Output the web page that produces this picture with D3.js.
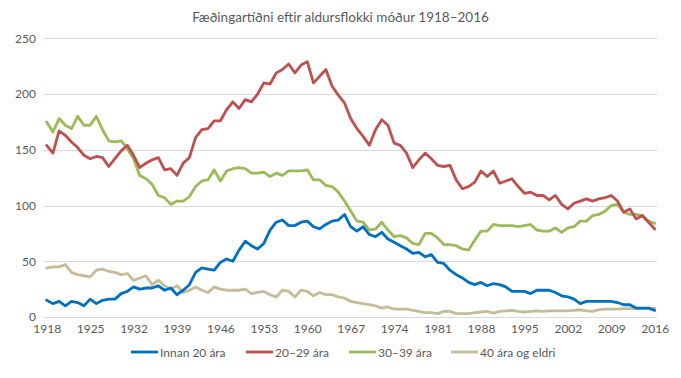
<!DOCTYPE html>
<html><head><meta charset="utf-8">
<script src="https://cdn.jsdelivr.net/npm/d3@7"></script>
<style>
html,body{margin:0;padding:0;background:#fff;}
svg{display:block;font-family:Lato, "Open Sans", sans-serif;}
</style></head>
<body><svg id="c" width="681" height="378"></svg>
<script>
const title = "Fæðingartíðni eftir aldursflokki móður 1918–2016";
const years = d3.range(1918, 2017);
const xTickYears = [1918,1925,1932,1939,1946,1953,1960,1967,1974,1981,1988,1995,2002,2009,2016];
const yTicks = [0,50,100,150,200,250];
const seriesNames = ["Innan 20 ára","20–29 ára","30–39 ára","40 ára og eldri"];
const seriesColors = ["#0070C0","#C0504D","#9BBB59","#C4BD97"];

const under20 = [15,12,14,10,14,13,10,16,12,15,16,16,21,23,27,25,26,26,28,24,26,20,24,29,40,44,43,42,49,52,50,60,68,64,61,66,78,85,87,82,82,85,86,81,79,83,86,87,92,81,77,81,74,72,76,70,67,64,61,57,58,54,56,49,48,42,38,35,31,29,31,28,30,29,27,23,23,23,21,24,24,24,22,19,18,16,12,14,14,14,14,14,13,11,11,8,8,8,6];
const age20_29 = [154,147,167,163,157,152,145,142,144,143,135,142,149,154,145,134,138,141,143,132,133,127,138,143,161,168,169,176,176,186,193,187,195,193,200,210,209,219,222,227,219,226,229,210,216,222,207,199,192,178,169,162,154,168,177,172,156,154,147,134,141,147,142,136,135,136,123,115,117,121,131,126,131,120,122,124,117,111,112,109,109,105,109,101,97,102,104,106,104,106,107,109,104,94,97,88,91,85,79];
const age30_39 = [175,166,178,172,169,180,172,172,180,168,158,157,158,151,142,127,124,119,109,107,101,104,104,108,117,122,123,132,122,131,133,134,133,129,129,130,126,129,127,131,131,131,132,123,123,118,117,112,104,95,86,85,78,79,85,78,72,73,71,66,65,75,75,71,65,65,64,61,60,69,77,77,83,82,82,82,81,82,83,78,77,77,80,76,80,81,86,86,91,92,95,100,101,94,92,92,91,86,84];
const age40plus = [44,45,45,47,40,38,37,36,42,43,41,40,38,39,33,35,37,29,33,28,25,28,22,24,27,24,22,27,25,24,24,24,25,21,22,23,20,18,24,23,18,24,23,19,22,20,20,18,17,14,13,12,11,10,8,9,7,7,7,6,5,4,4,3,5,5,3,3,3,4,4.5,5,3.5,5,5.5,6,5,4.5,5,5.5,5,5.5,5.5,5.5,5.5,6,6.5,5.5,5,6.5,7,7,7,7.5,7.5,7.5,7.5,8,8];

const allSeries = [under20, age20_29, age30_39, age40plus];

const svg = d3.select("#c");
const plotLeft = 44, plotRight = 657;
const x = d3.scaleLinear().domain([1918, 2016]).range([46.7, 654.7]);
const y = d3.scaleLinear().domain([0, 250]).range([317, 38.3]);
const txt = "#595959";

svg.append("text").attr("x", 340.5).attr("y", 22).attr("text-anchor","middle")
  .attr("font-size", 13.5).attr("fill", txt).text(title);

// gridlines
svg.append("g").selectAll("line").data(yTicks).join("line")
  .attr("x1", plotLeft).attr("x2", plotRight)
  .attr("y1", d => Math.round(y(d))+0.5).attr("y2", d => Math.round(y(d))+0.5)
  .attr("stroke", "#D9D9D9").attr("stroke-width", 1);

// y axis labels
const yAxis = d3.axisLeft(y).tickValues(yTicks).tickSize(0).tickPadding(0);
const gy = svg.append("g").attr("transform", `translate(36,0)`).call(yAxis);
gy.select(".domain").remove();
gy.selectAll("text").attr("font-size", 12).attr("fill", txt).attr("font-family","Lato, sans-serif");

// x axis labels
const xAxis = d3.axisBottom(x).tickValues(xTickYears).tickFormat(d3.format("d")).tickSize(0).tickPadding(0);
const gx = svg.append("g").attr("transform", `translate(0,324)`).call(xAxis);
gx.select(".domain").remove();
gx.selectAll("text").attr("font-size", 12).attr("fill", txt).attr("font-family","Lato, sans-serif");

// lines
const line = d3.line().x((d,i) => x(years[i])).y(d => y(d)).curve(d3.curveLinear);
const order = [3,2,1,0];
svg.append("g").selectAll("path").data(order).join("path")
  .attr("d", k => line(allSeries[k]))
  .attr("fill","none").attr("stroke", k => seriesColors[k])
  .attr("stroke-width", 2.8).attr("stroke-linejoin","round").attr("stroke-linecap","round");

// legend
const legendX = [131, 246, 349, 451];
const lg = svg.append("g");
seriesNames.forEach((n, k) => {
  lg.append("line").attr("x1", legendX[k]).attr("x2", legendX[k]+27)
    .attr("y1", 352).attr("y2", 352).attr("stroke", seriesColors[k]).attr("stroke-width", 2.8);
  lg.append("text").attr("x", legendX[k]+29).attr("y", 356.5)
    .attr("font-size", 12).attr("fill", txt).text(n);
});
</script></body></html>
